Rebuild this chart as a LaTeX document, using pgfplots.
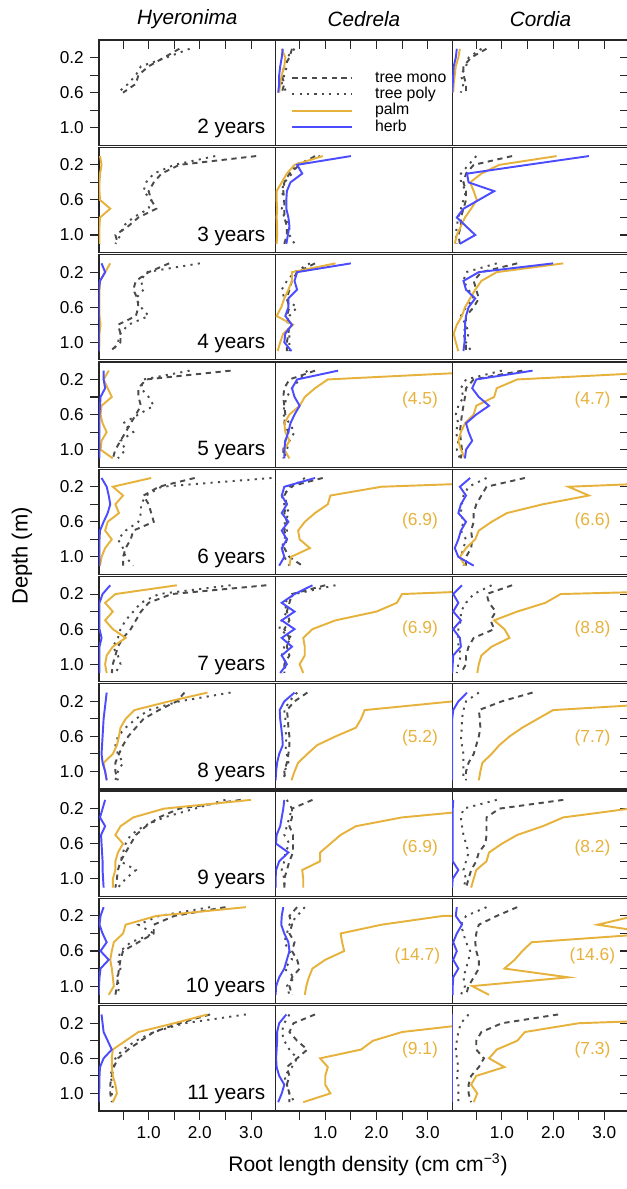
\documentclass[border=0pt]{standalone}
\usepackage{fontspec}
\setmainfont{Liberation Sans}
\usepackage{pgfplots}
\pgfplotsset{compat=1.18}
\usepackage{pgfplotstable}
\usepgfplotslibrary{groupplots}
\usetikzlibrary{calc}

\definecolor{palmc}{RGB}{230,178,60}
\definecolor{herbc}{RGB}{75,75,255}
\definecolor{treec}{RGB}{75,75,75}

% ---- Hyeronima ----
\pgfplotstableread{
d mono poly palm herb
0.1 1.6 1.8 nan nan
0.2 1.3 1.35 nan nan
0.3 1.0 0.85 nan nan
0.4 0.8 0.75 nan nan
0.5 0.75 0.6 nan nan
0.6 0.5 0.4 nan nan
}\hyii
\pgfplotstableread{
d mono poly palm herb
0.1 3.1 2.3 0.05 nan
0.2 1.6 1.5 0.08 nan
0.3 1.25 1.1 0.05 nan
0.4 1.1 0.95 0.04 nan
0.5 1.0 0.9 0.04 nan
0.6 1.05 1.05 0.05 nan
0.7 1.15 1.0 0.25 nan
0.8 0.8 0.7 0.05 nan
0.9 0.6 0.5 0.04 nan
1.0 0.35 0.45 0.04 nan
1.1 0.4 0.35 0.04 nan
}\hyiii
\pgfplotstableread{
d mono poly palm herb
0.1 1.4 2.0 0.25 0.08
0.2 1.0 0.95 0.15 0.15
0.3 0.75 0.85 0.05 0.05
0.4 0.7 0.9 0.04 0.03
0.5 0.78 0.75 0.04 0.03
0.6 0.8 0.85 0.04 0.03
0.7 0.75 1.0 0.04 0.03
0.8 0.4 0.6 0.06 0.03
0.9 0.45 0.45 0.04 0.03
1.0 0.45 0.4 0.04 0.03
1.1 0.25 0.3 0.03 0.03
}\hyiv
\pgfplotstableread{
d mono poly palm herb
0.1 2.6 1.8 0.22 0.12
0.2 0.95 0.9 0.12 0.12
0.3 0.8 0.85 0.2 0.15
0.4 0.8 1.0 0.28 0.06
0.5 0.85 1.1 0.08 0.05
0.6 0.75 0.8 0.06 0.04
0.7 0.65 0.5 0.1 0.04
0.8 0.55 0.7 0.18 0.04
0.9 0.45 0.45 0.08 0.04
1.0 0.35 0.55 0.06 0.04
1.1 0.3 0.4 0.3 0.04
}\hyv
\pgfplotstableread{
d mono poly palm herb
0.1 1.9 3.4 1.05 0.08
0.2 1.2 1.25 0.3 0.18
0.3 0.9 0.95 0.5 0.22
0.4 1.0 0.85 0.35 0.25
0.5 1.05 0.85 0.42 0.2
0.6 1.1 0.8 0.2 0.12
0.7 0.7 0.55 0.15 0.05
0.8 0.65 0.4 0.28 0.04
0.9 0.55 0.5 0.15 0.04
1.0 0.5 0.55 0.08 0.04
1.1 0.5 0.7 0.05 0.04
}\hyvi
\pgfplotstableread{
d mono poly palm herb
0.1 3.3 2.6 1.55 0.25
0.2 1.45 1.2 0.35 0.1
0.3 1.0 0.85 0.15 0.04
0.4 0.85 0.7 0.3 0.04
0.5 0.75 0.55 0.15 0.04
0.6 0.65 0.45 0.3 0.04
0.7 0.5 0.4 0.55 0.08
0.8 0.4 0.3 0.3 0.04
0.9 0.35 0.4 0.18 0.04
1.0 0.3 0.45 0.15 0.04
1.1 0.28 0.35 0.18 0.04
}\hyvii
\pgfplotstableread{
d mono poly palm herb
0.1 1.7 2.6 2.15 0.18
0.2 1.55 1.6 1.4 0.16
0.3 1.2 1.0 0.72 0.14
0.4 0.9 0.75 0.55 0.12
0.5 0.75 0.55 0.45 0.11
0.6 0.6 0.4 0.42 0.1
0.7 0.5 0.35 0.38 0.09
0.8 0.42 0.4 0.3 0.08
0.9 0.35 0.5 0.12 0.1
1.0 0.35 0.4 0.15 0.15
1.1 0.4 0.35 0.18 0.18
}\hyviii
\pgfplotstableread{
d mono poly palm herb
0.1 2.8 2.5 3.0 0.15
0.2 1.6 1.9 1.3 0.1
0.3 1.2 1.3 0.7 0.05
0.4 0.95 0.9 0.45 0.15
0.5 0.75 0.65 0.35 0.07
0.6 0.65 0.55 0.5 0.08
0.7 0.55 0.5 0.4 0.09
0.8 0.45 0.45 0.35 0.1
0.9 0.4 0.75 0.35 0.1
1.0 0.38 0.55 0.3 0.11
1.1 0.35 0.4 0.3 0.12
}\hyix
\pgfplotstableread{
d mono poly palm herb
0.1 2.5 2.2 2.9 0.12
0.2 1.5 1.2 1.15 0.06
0.3 1.1 0.8 0.55 0.04
0.4 1.1 1.1 0.5 0.1
0.5 0.8 0.65 0.32 0.18
0.6 0.5 0.45 0.28 0.06
0.7 0.45 0.4 0.25 0.22
0.8 0.42 0.45 0.28 0.06
0.9 0.4 0.38 0.3 0.04
1.0 0.38 0.42 0.32 0.03
1.1 0.35 0.4 0.22 0.03
}\hyx
\pgfplotstableread{
d mono poly palm herb
0.1 2.2 2.9 2.15 0.08
0.2 1.6 1.7 1.5 0.1
0.3 1.1 1.1 0.8 0.12
0.4 0.85 0.75 0.55 0.2
0.5 0.6 0.5 0.3 0.28
0.6 0.4 0.35 0.28 0.12
0.7 0.32 0.3 0.28 0.05
0.8 0.28 0.25 0.3 0.04
0.9 0.25 0.3 0.35 0.04
1.0 0.25 0.28 0.38 0.03
1.1 0.28 0.3 0.3 0.03
}\hyxi

% ---- Cedrela ----
\pgfplotstableread{
d mono poly palm herb
0.1 0.35 0.4 0.15 0.17
0.2 0.3 0.25 0.22 0.15
0.3 0.2 0.25 0.2 0.12
0.4 0.15 0.2 0.15 0.1
0.5 0.2 0.15 0.12 0.1
0.6 0.15 0.25 0.1 0.08
}\ceii
\pgfplotstableread{
d mono poly palm herb
0.1 0.8 0.9 0.95 1.5
0.2 0.5 0.4 0.4 0.45
0.3 0.3 0.35 0.25 0.55
0.4 0.2 0.2 0.15 0.32
0.5 0.18 0.15 0.05 0.25
0.6 0.2 0.2 0.05 0.24
0.7 0.2 0.15 0.06 0.24
0.8 0.2 0.2 0.05 0.28
0.9 0.25 0.3 0.06 0.3
1.0 0.25 0.3 0.06 0.27
1.1 0.2 0.4 0.05 0.24
}\ceiii
\pgfplotstableread{
d mono poly palm herb
0.1 0.8 0.7 1.2 1.5
0.2 0.45 0.4 0.35 0.45
0.3 0.35 0.25 0.35 0.4
0.4 0.3 0.15 0.28 0.45
0.5 0.25 0.2 0.2 0.28
0.6 0.3 0.45 0.14 0.28
0.7 0.25 0.3 0.05 0.22
0.8 0.3 0.25 0.37 0.35
0.9 0.28 0.3 0.18 0.22
1.0 0.25 0.3 0.12 0.2
1.1 0.25 0.3 0.07 0.34
}\ceiv
\pgfplotstableread{
d mono poly palm herb
0.1 0.8 0.65 4.5 1.25
0.2 0.3 0.5 1.05 0.45
0.3 0.2 0.35 0.8 0.35
0.4 0.18 0.25 0.6 0.4
0.5 0.2 0.2 0.5 0.5
0.6 0.22 0.18 0.3 0.4
0.7 0.2 0.3 0.2 0.32
0.8 0.28 0.4 0.22 0.28
0.9 0.22 0.3 0.3 0.22
1.0 0.18 0.25 0.2 0.2
1.1 0.18 0.2 0.3 0.2
}\cev
\pgfplotstableread{
d mono poly palm herb
0.1 0.95 0.6 6.9 0.8
0.2 0.3 0.35 2.1 0.2
0.3 0.2 0.15 1.1 0.15
0.4 0.25 0.2 1.05 0.25
0.5 0.2 0.3 0.8 0.15
0.6 0.25 0.2 0.6 0.28
0.7 0.2 0.25 0.47 0.15
0.8 0.25 0.2 0.5 0.25
0.9 0.2 0.15 0.7 0.15
1.0 0.3 0.2 0.33 0.2
1.1 0.55 0.3 0.3 0.1
}\cevi
\pgfplotstableread{
d mono poly palm herb
0.1 1.0 1.2 6.9 0.75
0.2 0.35 0.4 2.5 0.4
0.3 0.3 0.2 2.4 0.15
0.4 0.25 0.25 2.0 0.4
0.5 0.3 0.15 1.2 0.15
0.6 0.2 0.1 0.75 0.4
0.7 0.3 0.35 0.57 0.15
0.8 0.25 0.2 0.6 0.35
0.9 0.3 0.15 0.6 0.15
1.0 0.2 0.25 0.5 0.25
1.1 0.2 0.15 0.57 0.12
}\cevii
\pgfplotstableread{
d mono poly palm herb
0.1 0.65 0.45 5.2 0.4
0.2 0.4 0.3 3.5 0.2
0.3 0.25 0.2 1.77 0.11
0.4 0.27 0.22 1.7 0.12
0.5 0.28 0.2 1.6 0.14
0.6 0.3 0.25 1.2 0.16
0.7 0.3 0.22 0.84 0.17
0.8 0.28 0.25 0.65 0.1
0.9 0.25 0.28 0.47 0.06
1.0 0.2 0.2 0.4 0.04
1.1 0.22 0.2 0.34 0.03
}\ceviii
\pgfplotstableread{
d mono poly palm herb
0.1 0.75 0.25 6.9 0.2
0.2 0.35 0.35 4.3 0.18
0.3 0.35 0.3 2.5 0.15
0.4 0.3 0.25 1.6 0.12
0.5 0.37 0.2 1.3 0.05
0.6 0.37 0.3 1.1 0.04
0.7 0.37 0.22 0.9 0.28
0.8 0.3 0.2 0.9 0.1
0.9 0.25 0.15 0.55 0.04
1.0 0.2 0.2 0.57 0.03
1.1 0.2 0.2 0.57 0.03
}\ceix
\pgfplotstableread{
d mono poly palm herb
0.1 0.45 0.6 14.7 0.18
0.2 0.3 0.45 3.3 0.15
0.3 0.35 0.3 2.1 0.14
0.4 0.3 0.25 1.3 0.2
0.5 0.4 0.2 1.33 0.28
0.6 0.35 0.3 1.37 0.3
0.7 0.45 0.35 1.0 0.25
0.8 0.5 0.2 0.75 0.2
0.9 0.35 0.4 0.68 0.1
1.0 0.3 0.25 0.63 0.04
1.1 0.35 0.3 0.6 0.03
}\cex
\pgfplotstableread{
d mono poly palm herb
0.1 0.8 0.3 9.1 0.24
0.2 0.38 0.2 4.0 0.1
0.3 0.3 0.15 2.5 0.06
0.4 0.45 0.2 1.93 0.06
0.5 0.65 0.3 1.7 0.05
0.6 0.45 0.45 0.9 0.04
0.7 0.25 0.35 1.05 0.05
0.8 0.3 0.2 1.0 0.1
0.9 0.25 0.25 1.0 0.2
1.0 0.3 0.3 1.1 0.15
1.1 0.3 0.4 0.57 0.08
}\cexi

% ---- Cordia ----
\pgfplotstableread{
d mono poly palm herb
0.1 0.7 0.6 0.18 0.12
0.2 0.4 0.35 0.15 0.1
0.3 0.25 0.3 0.1 0.06
0.4 0.25 0.2 0.08 0.05
0.5 0.3 0.25 0.06 0.04
0.6 0.3 0.2 0.05 0.03
}\coii
\pgfplotstableread{
d mono poly palm herb
0.1 1.2 0.5 2.07 2.7
0.2 0.45 0.35 0.95 1.5
0.3 0.3 0.2 0.6 0.32
0.4 0.25 0.2 0.38 0.35
0.5 0.3 0.3 0.45 0.85
0.6 0.3 0.25 0.51 0.55
0.7 0.25 0.2 0.4 0.25
0.8 0.2 0.15 0.28 0.12
0.9 0.2 0.12 0.2 0.3
1.0 0.15 0.1 0.12 0.48
1.1 0.18 0.12 0.08 0.18
}\coiii
\pgfplotstableread{
d mono poly palm herb
0.1 1.3 0.9 2.2 2.0
0.2 0.6 0.3 0.9 0.55
0.3 0.45 0.25 0.6 0.25
0.4 0.5 0.35 0.48 0.3
0.5 0.55 0.45 0.38 0.48
0.6 0.45 0.3 0.28 0.35
0.7 0.3 0.2 0.22 0.3
0.8 0.3 0.3 0.12 0.28
0.9 0.25 0.35 0.06 0.28
1.0 0.3 0.3 0.1 0.27
1.1 0.3 0.4 0.15 0.25
}\coiv
\pgfplotstableread{
d mono poly palm herb
0.1 1.4 1.0 4.7 1.6
0.2 0.45 0.3 1.3 0.5
0.3 0.3 0.2 0.9 0.42
0.4 0.28 0.25 0.85 0.55
0.5 0.25 0.15 0.5 0.75
0.6 0.22 0.1 0.45 0.5
0.7 0.2 0.15 0.28 0.3
0.8 0.18 0.1 0.2 0.35
0.9 0.2 0.15 0.15 0.42
1.0 0.22 0.12 0.2 0.3
1.1 0.2 0.18 0.28 0.28
}\cov
\pgfplotstableread{
d mono poly palm herb
0.1 1.45 0.7 6.6 0.38
0.2 0.7 0.35 2.3 0.18
0.3 0.6 0.25 2.7 0.3
0.4 0.5 0.22 1.8 0.2
0.5 0.45 0.2 1.1 0.15
0.6 0.45 0.25 0.8 0.3
0.7 0.4 0.2 0.55 0.2
0.8 0.42 0.3 0.48 0.15
0.9 0.4 0.25 0.3 0.08
1.0 0.3 0.2 0.18 0.15
1.1 0.3 0.25 0.28 0.45
}\covi
\pgfplotstableread{
d mono poly palm herb
0.1 1.2 0.8 8.8 0.22
0.2 0.7 0.45 2.15 0.05
0.3 0.75 0.3 1.85 0.15
0.4 0.88 0.2 1.3 0.05
0.5 0.78 0.2 0.85 0.2
0.6 0.85 0.15 1.05 0.05
0.7 0.45 0.15 1.15 0.18
0.8 0.35 0.15 0.8 0.2
0.9 0.3 0.2 0.6 0.05
1.0 0.3 0.15 0.55 0.04
1.1 0.2 0.12 0.52 0.03
}\covii
\pgfplotstableread{
d mono poly palm herb
0.1 1.6 0.55 7.7 0.32
0.2 1.0 0.3 4.85 0.15
0.3 0.55 0.25 2.0 0.05
0.4 0.57 0.22 1.7 0.03
0.5 0.58 0.22 1.4 0.03
0.6 0.55 0.2 1.15 0.03
0.7 0.5 0.22 0.95 0.03
0.8 0.45 0.25 0.8 0.03
0.9 0.35 0.25 0.62 0.03
1.0 0.3 0.25 0.58 0.03
1.1 0.3 0.25 0.55 0.03
}\coviii
\pgfplotstableread{
d mono poly palm herb
0.1 2.2 0.9 8.2 0.05
0.2 0.95 0.25 3.5 0.04
0.3 0.7 0.2 2.2 0.04
0.4 0.7 0.22 1.8 0.04
0.5 0.7 0.25 1.3 0.04
0.6 0.68 0.3 1.0 0.04
0.7 0.55 0.35 0.75 0.04
0.8 0.5 0.3 0.7 0.04
0.9 0.4 0.25 0.5 0.15
1.0 0.35 0.3 0.45 0.04
1.1 0.3 0.25 0.4 0.03
}\coix
\pgfplotstableread{
d mono poly palm herb
0.1 1.3 0.7 14.6 0.12
0.2 0.9 0.3 3.6 0.1
0.3 0.55 0.2 2.87 0.22
0.4 0.5 0.25 4.0 0.12
0.5 0.48 0.3 1.58 0.05
0.6 0.5 0.38 1.4 0.12
0.7 0.55 0.35 1.25 0.05
0.8 0.55 0.3 1.05 0.15
0.9 0.45 0.25 2.3 0.05
1.0 0.35 0.28 0.42 0.04
1.1 0.3 0.2 0.75 0.04
}\cox
\pgfplotstableread{
d mono poly palm herb
0.1 2.1 0.35 7.3 0.03
0.2 1.0 0.2 2.5 0.03
0.3 0.6 0.15 1.45 0.03
0.4 0.5 0.12 1.3 0.03
0.5 0.5 0.1 0.9 0.03
0.6 0.65 0.12 0.75 0.03
0.7 0.55 0.15 1.05 0.03
0.8 0.4 0.12 0.5 0.03
0.9 0.35 0.15 0.4 0.03
1.0 0.35 0.15 0.52 0.03
1.1 0.4 0.15 0.45 0.03
}\coxi

\pgfplotsset{
  mono/.style={treec, line width=1.1pt, dash pattern=on 3pt off 2.6pt},
  poly/.style={treec, line width=1.1pt, dash pattern=on 1.2pt off 3pt},
  palm/.style={palmc, line width=1.1pt},
  herb/.style={herbc, line width=1.1pt},
  leftcol/.style={ytick={0.2,0.4,0.6,0.8,1.0}, yticklabels={0.2,,0.6,,1.0}, ytick pos=left, ytick align=outside},
  midcol/.style={ytick=\empty},
  rightcol/.style={ytick={0.2,0.4,0.6,0.8,1.0}, yticklabels={,,,,}, ytick pos=right, ytick align=inside},
  toprow/.style={xtick={0.5,1,1.5,2,2.5,3}, xticklabels={,,,,,}, xtick pos=top, xtick align=inside},
  midrow/.style={xtick=\empty},
  botrow/.style={xtick={0.5,1,1.5,2,2.5,3}, xticklabels={,1.0,,2.0,,3.0}, xtick pos=bottom, xtick align=outside},
}

\newcommand{\panel}[1]{%
  \addplot[mono] table[x=mono, y=d] {#1};
  \addplot[poly] table[x=poly, y=d] {#1};
  \addplot[palm] table[x=palm, y=d] {#1};
  \addplot[herb] table[x=herb, y=d] {#1};
}
\newcommand{\yr}[1]{\node[anchor=base east, font=\fontsize{11.8}{13}\selectfont] at (axis cs:3.4,1.07) {#1};}
\newcommand{\pnum}[3]{\node[text=palmc, font=\fontsize{9.9}{12}\selectfont] at (axis cs:#1,#2) {#3};}

\begin{document}
\begin{tikzpicture}
\begin{groupplot}[
  group style={group name=G, group size=3 by 10, horizontal sep=0pt, vertical sep=0.041cm},
  scale only axis, width=3.532cm, height=2.105cm,
  xmin=0.03, xmax=3.48, ymin=0, ymax=1.2, y dir=reverse,
  axis line style={line width=0.7pt, black!85},
  every tick/.append style={line width=0.6pt, black!85},
  major tick length=0.18cm,
  tick label style={font=\fontsize{9.8}{11}\selectfont},
  title style={font=\fontsize{11.8}{13}\selectfont\itshape, at={(0.5,1)}, anchor=center, yshift=0.20cm},
  unbounded coords=discard,
]
% 2 years
\nextgroupplot[toprow, leftcol, title=Hyeronima]
\coordinate (TL) at (axis cs:0.03,0);
\panel{\hyii}
\yr{2 years}
\nextgroupplot[toprow, midcol, title=Cedrela,
  legend style={at={(axis cs:0.33,0.335)}, anchor=north west, draw=none, fill=none,
    inner sep=0pt, font=\fontsize{9}{9}\selectfont,
    nodes={inner sep=0.5pt, text height=6.6pt, text depth=1.7pt},
    /tikz/every odd column/.append style={column sep=0.42cm}},
  legend cell align=left,
  legend image code/.code={\draw[#1] (0cm,0cm) -- (1.2cm,0cm);}]
\panel{\ceii}
\legend{tree mono, tree poly, palm, herb}
\nextgroupplot[toprow, rightcol, title=Cordia]
\panel{\coii}
% 3 years
\nextgroupplot[midrow, leftcol]
\panel{\hyiii}
\yr{3 years}
\nextgroupplot[midrow, midcol]
\panel{\ceiii}
\nextgroupplot[midrow, rightcol]
\panel{\coiii}
% 4 years
\nextgroupplot[midrow, leftcol]
\panel{\hyiv}
\yr{4 years}
\nextgroupplot[midrow, midcol]
\panel{\ceiv}
\nextgroupplot[midrow, rightcol]
\panel{\coiv}
% 5 years
\nextgroupplot[midrow, leftcol]
\panel{\hyv}
\yr{5 years}
\nextgroupplot[midrow, midcol]
\panel{\cev}
\pnum{2.85}{0.44}{(4.5)}
\nextgroupplot[midrow, rightcol]
\panel{\cov}
\pnum{2.77}{0.44}{(4.7)}
% 6 years
\nextgroupplot[midrow, leftcol]
\panel{\hyvi}
\yr{6 years}
\nextgroupplot[midrow, midcol]
\panel{\cevi}
\pnum{2.85}{0.59}{(6.9)}
\nextgroupplot[midrow, rightcol]
\panel{\covi}
\pnum{2.77}{0.59}{(6.6)}
% 7 years
\nextgroupplot[midrow, leftcol]
\panel{\hyvii}
\yr{7 years}
\nextgroupplot[midrow, midcol]
\panel{\cevii}
\pnum{2.85}{0.6}{(6.9)}
\nextgroupplot[midrow, rightcol]
\panel{\covii}
\pnum{2.77}{0.6}{(8.8)}
% 8 years
\nextgroupplot[midrow, leftcol]
\panel{\hyviii}
\yr{8 years}
\nextgroupplot[midrow, midcol]
\panel{\ceviii}
\pnum{2.85}{0.62}{(5.2)}
\nextgroupplot[midrow, rightcol]
\panel{\coviii}
\pnum{2.77}{0.62}{(7.7)}
% 9 years
\nextgroupplot[midrow, leftcol]
\panel{\hyix}
\yr{9 years}
\nextgroupplot[midrow, midcol]
\panel{\ceix}
\pnum{2.85}{0.65}{(6.9)}
\nextgroupplot[midrow, rightcol]
\panel{\coix}
\pnum{2.77}{0.65}{(8.2)}
% 10 years
\nextgroupplot[midrow, leftcol]
\panel{\hyx}
\yr{10 years}
\nextgroupplot[midrow, midcol]
\panel{\cex}
\pnum{2.8}{0.66}{(14.7)}
\nextgroupplot[midrow, rightcol]
\panel{\cox}
\pnum{2.77}{0.66}{(14.6)}
% 11 years
\nextgroupplot[botrow, leftcol]
\panel{\hyxi}
\yr{11 years}
\nextgroupplot[botrow, midcol]
\panel{\cexi}
\pnum{2.85}{0.5}{(9.1)}
\nextgroupplot[botrow, rightcol]
\panel{\coxi}
\pnum{2.77}{0.5}{(7.3)}
\end{groupplot}
\node[rotate=90, font=\fontsize{12.5}{14}\selectfont] at ($(TL)+(-1.54cm,-10.32cm)$) {Depth (m)};
\node[font=\fontsize{12}{14}\selectfont] at ($(TL)+(5.38cm,-22.5cm)$) {Root length density (cm cm\textsuperscript{−3})};
\pgfresetboundingbox
\path[use as bounding box] ($(TL)+(-1.98cm,0.80cm)$) rectangle ($(TL)+(10.54cm,-22.98cm)$);
\end{tikzpicture}
\end{document}
